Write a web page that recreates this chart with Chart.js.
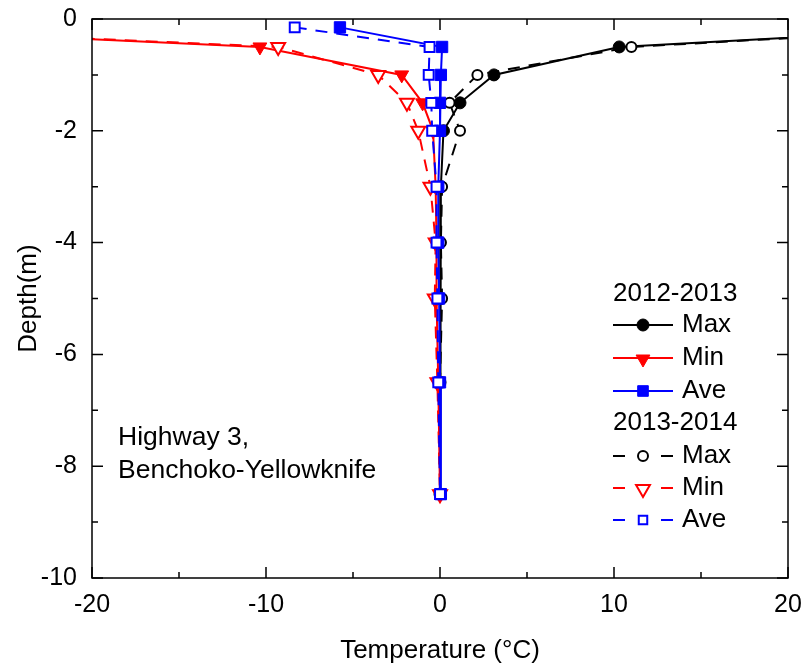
<!DOCTYPE html>
<html>
<head>
<meta charset="utf-8">
<script src="https://cdn.jsdelivr.net/npm/chart.js"></script>
<style>
  html, body { margin: 0; padding: 0; background: #fff; }
  #wrap { width: 804px; height: 666px; position: relative; }
</style>
</head>
<body>
<div id="wrap"><canvas id="chart"></canvas></div>
<script>
// depth of each reading (m)
const depths = [-0.15, -0.5, -1, -1.5, -2, -3, -4, -5, -6.5, -8.5];

// 2012-2013 temperatures (deg C)
const max1213 = [31, 10.3, 3.1, 1.15, 0.2, 0.05, 0, 0.05, 0, 0];
const min1213 = [-35, -10.35, -2.2, -1.0, -0.4, -0.25, -0.2, -0.2, -0.1, 0];
const ave1213 = [-5.75, 0.12, 0.05, 0, 0, -0.1, -0.1, -0.05, 0, 0.05];

// 2013-2014 temperatures (deg C)
const max1314 = [31, 11.0, 2.15, 0.55, 1.15, 0.12, 0.05, 0.12, 0, 0];
const min1314 = [-35, -9.3, -3.55, -1.9, -1.25, -0.55, -0.25, -0.3, -0.15, 0];
const ave1314 = [-8.35, -0.6, -0.65, -0.5, -0.45, -0.2, -0.2, -0.15, -0.1, 0];

const xTicks = [-20, -10, 0, 10, 20];
const yTicks = [0, -2, -4, -6, -8, -10];

const FONT = "'Liberation Sans', Arial, sans-serif";

function pts(temps) {
  return temps.map((t, i) => ({ x: t, y: depths[i] }));
}

// one series; style says what marker and line it gets
function series(label, temps, color, style, dashed, order) {
  let ds = {
    label: label,
    data: pts(temps),
    borderColor: color,
    borderWidth: 2,
    borderDash: dashed ? [12, 9] : [],
    pointBorderWidth: dashed ? 2 : 1,
    pointBorderColor: color,
    pointBackgroundColor: dashed ? '#fff' : color,
    pointRadius: 6,
    pointRotation: 0,
    tension: 0,
    order: order
  };
  if (style == 'circle') {
    ds.pointStyle = 'circle';
    ds.pointRadius = dashed ? 5 : 6;
  } else if (style == 'triangle') {
    ds.pointStyle = 'triangle';
    ds.pointRotation = 180;
    ds.pointRadius = 8;
  } else {
    ds.pointStyle = 'rect';
    ds.pointRadius = dashed ? 7 : 8;
  }
  return ds;
}

const datasets = [
  series('Ave', ave1314, '#0000ff', 'rect', true, 0),
  series('Ave', ave1213, '#0000ff', 'rect', false, 1),
  series('Min', min1314, '#ff0000', 'triangle', true, 2),
  series('Min', min1213, '#ff0000', 'triangle', false, 3),
  series('Max', max1314, '#000000', 'circle', true, 4),
  series('Max', max1213, '#000000', 'circle', false, 5)
];

// frame + inward ticks on all four sides, legend and site note
const decor = {
  id: 'decor',
  afterDraw(chart) {
    const ctx = chart.ctx;
    const a = chart.chartArea;
    const xs = chart.scales.x, ys = chart.scales.y;
    ctx.save();
    ctx.strokeStyle = '#000';
    ctx.lineWidth = 1.5;
    ctx.setLineDash([]);
    ctx.strokeRect(a.left, a.top, a.right - a.left, a.bottom - a.top);

    ctx.beginPath();
    for (let v = -20; v <= 20; v += 5) {
      let px = xs.getPixelForValue(v);
      let len = v % 10 == 0 ? 11 : 6;
      ctx.moveTo(px, a.bottom); ctx.lineTo(px, a.bottom - len);
      ctx.moveTo(px, a.top); ctx.lineTo(px, a.top + len);
    }
    for (let v = -10; v <= 0; v += 1) {
      let py = ys.getPixelForValue(v);
      let len = v % 2 == 0 ? 11 : 6;
      ctx.moveTo(a.left, py); ctx.lineTo(a.left + len, py);
      ctx.moveTo(a.right, py); ctx.lineTo(a.right - len, py);
    }
    ctx.stroke();

    // legend
    ctx.font = '26px ' + FONT;
    ctx.fillStyle = '#000';
    ctx.textBaseline = 'middle';
    ctx.textAlign = 'left';
    const rows = [
      { head: '2012-2013', y: 294 },
      { ds: 5, y: 325 }, { ds: 3, y: 358 }, { ds: 1, y: 391 },
      { head: '2013-2014', y: 423 },
      { ds: 4, y: 456 }, { ds: 2, y: 488 }, { ds: 0, y: 520 }
    ];
    rows.forEach(r => {
      if (r.head) {
        ctx.fillStyle = '#000';
        ctx.fillText(r.head, 613, r.y);
        return;
      }
      const d = datasets[r.ds];
      const dashed = d.borderDash.length > 0;
      ctx.strokeStyle = d.borderColor;
      ctx.lineWidth = 2;
      ctx.beginPath();
      if (dashed) {
        ctx.moveTo(613, r.y); ctx.lineTo(625, r.y);
        ctx.moveTo(661, r.y); ctx.lineTo(673, r.y);
      } else {
        ctx.moveTo(613, r.y); ctx.lineTo(673, r.y);
      }
      ctx.stroke();
      ctx.fillStyle = d.pointBackgroundColor;
      ctx.lineWidth = d.pointBorderWidth;
      let rad = 6;
      if (d.pointStyle == 'circle') rad = dashed ? 5 : 6;
      else if (d.pointStyle == 'rect') rad = dashed ? 6 : 7.5;
      else rad = 8;
      Chart.helpers.drawPoint(ctx, {
        pointStyle: d.pointStyle,
        rotation: d.pointRotation,
        radius: rad,
        borderWidth: d.pointBorderWidth
      }, 643, r.y + (d.pointStyle == 'triangle' ? 1 : 0));
      ctx.fillStyle = '#000';
      ctx.fillText(d.label, 682, r.y);
    });

    // site note
    ctx.font = '26.5px ' + FONT;
    ctx.fillText('Highway 3,', 118, 438);
    ctx.fillText('Benchoko-Yellowknife', 118, 471);
    ctx.restore();
  }
};

new Chart(document.getElementById('chart'), {
  type: 'line',
  data: { datasets: datasets },
  options: {
    responsive: true,
    maintainAspectRatio: false,
    animation: false,
    layout: { padding: { top: 19, right: 16, left: 0, bottom: 0 } },
    plugins: { legend: { display: false }, tooltip: { enabled: false } },
    scales: {
      x: {
        type: 'linear',
        min: -20, max: 20,
        afterBuildTicks: s => { s.ticks = xTicks.map(v => ({ value: v })); },
        afterFit: s => { s.height = 88; s.paddingLeft = 0; s.paddingRight = 0; },
        grid: { display: false },
        border: { display: false },
        ticks: { color: '#000', font: { size: 25, family: FONT }, padding: 4, maxRotation: 0 },
        title: { display: true, text: 'Temperature (°C)', color: '#000', font: { size: 26, family: FONT }, padding: { top: 4, bottom: 0 } }
      },
      y: {
        type: 'linear',
        min: -10, max: 0,
        afterBuildTicks: s => { s.ticks = yTicks.map(v => ({ value: v })); },
        afterFit: s => { s.width = 92; s.paddingTop = 0; s.paddingBottom = 0; },
        grid: { display: false },
        border: { display: false },
        ticks: { color: '#000', font: { size: 25, family: FONT }, padding: 7 },
        title: { display: true, text: 'Depth(m)', color: '#000', font: { size: 26, family: FONT }, padding: { top: 13, bottom: 4 } }
      }
    }
  },
  plugins: [decor]
});
</script>
</body>
</html>
